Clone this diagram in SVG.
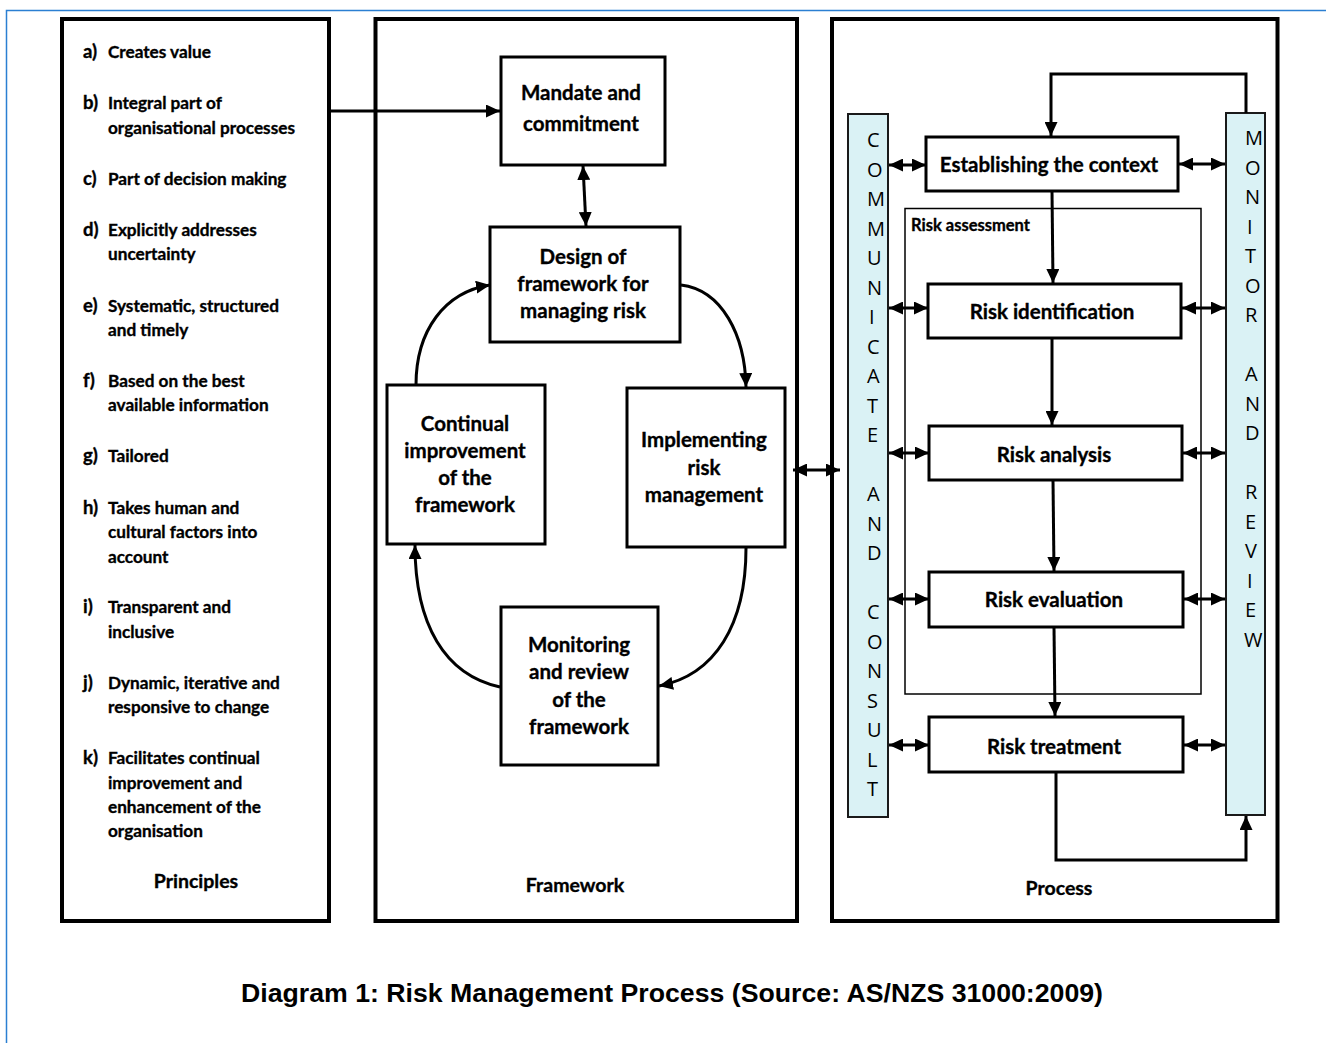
<svg xmlns="http://www.w3.org/2000/svg" width="1326" height="1043" viewBox="0 0 1326 1043">
  <style>
    .panel { fill: #ffffff; stroke: #000000; stroke-width: 4; }
    .box { fill: #ffffff; stroke: #000000; stroke-width: 3; }
    .band { fill: #daf2f5; stroke: #1a1a1a; stroke-width: 2; }
    .thin { fill: none; stroke: #000000; stroke-width: 1.5; }
    .conn { fill: none; stroke: #000000; stroke-width: 3; }
    .lbl { font-family: Lato, "Open Sans", "Liberation Sans", sans-serif; font-weight: bold; fill: #000000; stroke: #000000; stroke-width: 0.35; }
    .pr { font-size: 17.2px; }
    .key { font-size: 18.5px; }
    .node { font-size: 20.5px; text-anchor: middle; }
    .title { font-size: 19.5px; text-anchor: middle; }
    .vert { font-family: "Open Sans", "Noto Sans", sans-serif; font-size: 20px; fill: #000000; }
    .cap { font-family: "Liberation Sans", Arial, sans-serif; font-weight: bold; font-size: 26px; text-anchor: middle; fill: #000000; }
  </style>
  <defs>
    <marker id="ah" viewBox="0 0 14 13" refX="14" refY="6.5" markerWidth="14" markerHeight="13" markerUnits="userSpaceOnUse" orient="auto-start-reverse">
      <path d="M0,0 L14,6.5 L0,13 z" fill="#000000"/>
    </marker>
  </defs>

  <rect x="0" y="0" width="1326" height="1043" fill="#ffffff"/>
  <!-- page frame -->
  <rect x="6.5" y="10.5" width="1340" height="1060" fill="none" stroke="#2b7fd2" stroke-width="1.5"/>

  <!-- Principles panel -->
  <g id="principles">
    <rect class="panel" x="62" y="19" width="267" height="902"/>
    <g class="lbl">
      <text class="key" x="83" y="58">a)</text><text class="pr" x="108" y="58">Creates value</text>
      <text class="key" x="83" y="109">b)</text><text class="pr" x="108" y="109">Integral part of</text>
      <text class="pr" x="108" y="134">organisational processes</text>
      <text class="key" x="83" y="185">c)</text><text class="pr" x="108" y="185">Part of decision making</text>
      <text class="key" x="83" y="236">d)</text><text class="pr" x="108" y="236">Explicitly addresses</text>
      <text class="pr" x="108" y="260">uncertainty</text>
      <text class="key" x="83" y="312">e)</text><text class="pr" x="108" y="312">Systematic, structured</text>
      <text class="pr" x="108" y="336">and timely</text>
      <text class="key" x="83" y="387">f)</text><text class="pr" x="108" y="387">Based on the best</text>
      <text class="pr" x="108" y="411">available information</text>
      <text class="key" x="83" y="462">g)</text><text class="pr" x="108" y="462">Tailored</text>
      <text class="key" x="83" y="514">h)</text><text class="pr" x="108" y="514">Takes human and</text>
      <text class="pr" x="108" y="538">cultural factors into</text>
      <text class="pr" x="108" y="563">account</text>
      <text class="key" x="83" y="613">i)</text><text class="pr" x="108" y="613">Transparent and</text>
      <text class="pr" x="108" y="638">inclusive</text>
      <text class="key" x="83" y="689">j)</text><text class="pr" x="108" y="689">Dynamic, iterative and</text>
      <text class="pr" x="108" y="713">responsive to change</text>
      <text class="key" x="83" y="764">k)</text><text class="pr" x="108" y="764">Facilitates continual</text>
      <text class="pr" x="108" y="789">improvement and</text>
      <text class="pr" x="108" y="813">enhancement of the</text>
      <text class="pr" x="108" y="837">organisation</text>
      <text class="title" x="196" y="888">Principles</text>
    </g>
  </g>

  <!-- Framework panel -->
  <g id="framework">
    <rect class="panel" x="375.5" y="19" width="421.5" height="902"/>
    <text class="lbl" x="575" y="892" font-size="19.5" text-anchor="middle">Framework</text>
  </g>

  <!-- Process panel -->
  <g id="process">
    <rect class="panel" x="832" y="19" width="445.5" height="902"/>
    <text class="lbl" x="1059" y="895" font-size="19.5" text-anchor="middle">Process</text>
  </g>

  <!-- Framework nodes -->
  <g id="mandate">
    <rect class="box" x="501" y="57" width="164" height="108"/>
    <text class="lbl node" x="581" y="100">Mandate and</text>
    <text class="lbl node" x="581" y="131">commitment</text>
  </g>
  <g id="design">
    <rect class="box" x="490" y="227" width="190" height="115"/>
    <text class="lbl node" x="583" y="264">Design of</text>
    <text class="lbl node" x="583" y="291">framework for</text>
    <text class="lbl node" x="583" y="318">managing risk</text>
  </g>
  <g id="continual">
    <rect class="box" x="387" y="385" width="158" height="159"/>
    <text class="lbl node" x="465" y="431">Continual</text>
    <text class="lbl node" x="465" y="458">improvement</text>
    <text class="lbl node" x="465" y="485">of the</text>
    <text class="lbl node" x="465" y="512">framework</text>
  </g>
  <g id="implementing">
    <rect class="box" x="627" y="388" width="158" height="159"/>
    <text class="lbl node" x="704" y="447">Implementing</text>
    <text class="lbl node" x="704" y="475">risk</text>
    <text class="lbl node" x="704" y="502">management</text>
  </g>
  <g id="monitoring-fw">
    <rect class="box" x="501" y="607" width="157" height="158"/>
    <text class="lbl node" x="579" y="652">Monitoring</text>
    <text class="lbl node" x="579" y="679">and review</text>
    <text class="lbl node" x="579" y="707">of the</text>
    <text class="lbl node" x="579" y="734">framework</text>
  </g>

  <!-- Process side bands -->
  <g id="communicate">
    <rect class="band" x="848" y="114" width="40" height="703"/>
    <g class="vert">
      <text x="867" y="147">C</text>
      <text x="867" y="176.5">O</text>
      <text x="867" y="206">M</text>
      <text x="867" y="235.5">M</text>
      <text x="867" y="265">U</text>
      <text x="867" y="294.5">N</text>
      <text x="869" y="324">I</text>
      <text x="867" y="353.5">C</text>
      <text x="867" y="383">A</text>
      <text x="867" y="412.5">T</text>
      <text x="867" y="442">E</text>
      <text x="867" y="501">A</text>
      <text x="867" y="530.5">N</text>
      <text x="867" y="560">D</text>
      <text x="867" y="619">C</text>
      <text x="867" y="648.5">O</text>
      <text x="867" y="678">N</text>
      <text x="867" y="707.5">S</text>
      <text x="867" y="737">U</text>
      <text x="867" y="766.5">L</text>
      <text x="867" y="796">T</text>
    </g>
  </g>
  <g id="monitor-review">
    <rect class="band" x="1226" y="113" width="39" height="702"/>
    <g class="vert">
      <text x="1245" y="145">M</text>
      <text x="1245" y="174.5">O</text>
      <text x="1245" y="204">N</text>
      <text x="1247" y="233.5">I</text>
      <text x="1245" y="263">T</text>
      <text x="1245" y="292.5">O</text>
      <text x="1245" y="322">R</text>
      <text x="1245" y="381">A</text>
      <text x="1245" y="410.5">N</text>
      <text x="1245" y="440">D</text>
      <text x="1245" y="499">R</text>
      <text x="1245" y="528.5">E</text>
      <text x="1245" y="558">V</text>
      <text x="1247" y="587.5">I</text>
      <text x="1245" y="617">E</text>
      <text x="1244" y="646.5">W</text>
    </g>
  </g>

  <!-- Risk assessment frame -->
  <g id="risk-assessment">
    <rect class="thin" x="905" y="208.5" width="296" height="485.5"/>
    <text class="lbl" x="911" y="231" font-size="16.5">Risk assessment</text>
  </g>

  <!-- Process nodes -->
  <g id="context">
    <rect class="box" x="926" y="137" width="252" height="54"/>
    <text class="lbl node" x="1049" y="172">Establishing the context</text>
  </g>
  <g id="identification">
    <rect class="box" x="928" y="284" width="253" height="54"/>
    <text class="lbl node" x="1052" y="319">Risk identification</text>
  </g>
  <g id="analysis">
    <rect class="box" x="929" y="426" width="253" height="54"/>
    <text class="lbl node" x="1054" y="462">Risk analysis</text>
  </g>
  <g id="evaluation">
    <rect class="box" x="929" y="572" width="254" height="55"/>
    <text class="lbl node" x="1054" y="607">Risk evaluation</text>
  </g>
  <g id="treatment">
    <rect class="box" x="929" y="717" width="254" height="55"/>
    <text class="lbl node" x="1054" y="754">Risk treatment</text>
  </g>

  <!-- Connectors -->
  <g id="connectors" class="conn">
    <path d="M330,111 L500,111" marker-end="url(#ah)"/>
    <path d="M583,166 L586,226" marker-start="url(#ah)" marker-end="url(#ah)"/>
    <path d="M416,385 C416,330 445,292 490,285" marker-end="url(#ah)"/>
    <path d="M681,285 C722,290 745,335 746,387" marker-end="url(#ah)"/>
    <path d="M746,548 C746,625 715,675 659,686" marker-end="url(#ah)"/>
    <path d="M500,687 C445,675 415,625 415,545" marker-end="url(#ah)"/>
    <path d="M793,470 L840,470" marker-start="url(#ah)" marker-end="url(#ah)"/>

    <path d="M1246,113 L1246,74 L1051,74 L1051,136" marker-end="url(#ah)"/>
    <path d="M1052,191 L1053,283" marker-end="url(#ah)"/>
    <path d="M1052,338 L1052,425" marker-end="url(#ah)"/>
    <path d="M1053,480 L1054,571" marker-end="url(#ah)"/>
    <path d="M1054,627 L1055,716" marker-end="url(#ah)"/>
    <path d="M1056,772 L1056,860 L1246,860 L1246,816" marker-end="url(#ah)"/>

    <path d="M889,165 L926,165" marker-start="url(#ah)" marker-end="url(#ah)"/>
    <path d="M889,308 L928,308" marker-start="url(#ah)" marker-end="url(#ah)"/>
    <path d="M889,453 L929,453" marker-start="url(#ah)" marker-end="url(#ah)"/>
    <path d="M889,599 L929,599" marker-start="url(#ah)" marker-end="url(#ah)"/>
    <path d="M889,745 L929,745" marker-start="url(#ah)" marker-end="url(#ah)"/>

    <path d="M1179,164 L1225,164" marker-start="url(#ah)" marker-end="url(#ah)"/>
    <path d="M1182,308 L1225,308" marker-start="url(#ah)" marker-end="url(#ah)"/>
    <path d="M1183,453 L1225,453" marker-start="url(#ah)" marker-end="url(#ah)"/>
    <path d="M1184,599 L1225,599" marker-start="url(#ah)" marker-end="url(#ah)"/>
    <path d="M1184,745 L1225,745" marker-start="url(#ah)" marker-end="url(#ah)"/>
  </g>

  <text class="cap" x="672" y="1002" textLength="862" lengthAdjust="spacingAndGlyphs">Diagram 1: Risk Management Process (Source: AS/NZS 31000:2009)</text>
</svg>
